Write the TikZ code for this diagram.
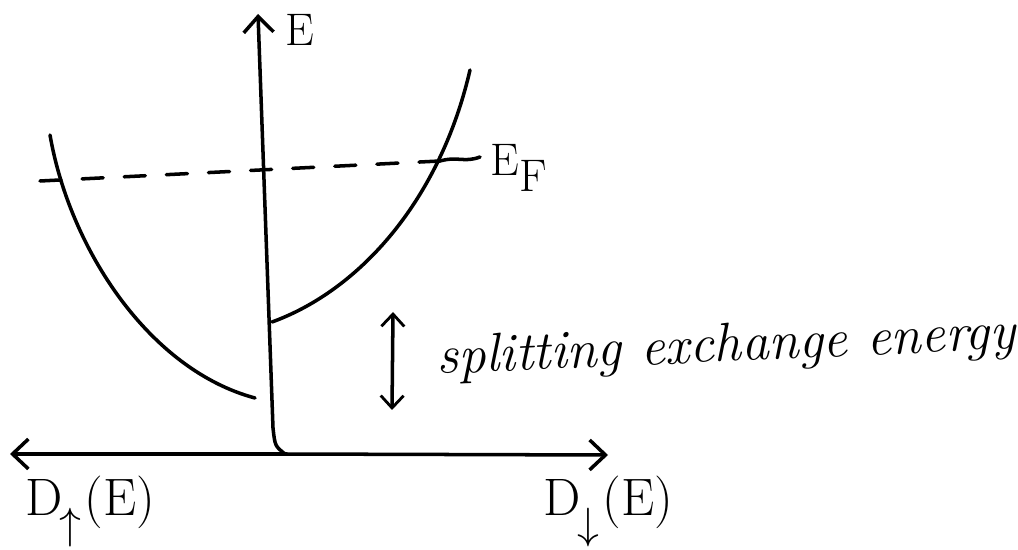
\documentclass[tikz,border=0pt]{standalone}
\usetikzlibrary{arrows.meta}
\begin{document}
\begin{tikzpicture}[x=0.02cm,y=-0.02cm,
  ink/.style={line width=2pt, line cap=round, line join=round},
  barb/.style={-{Straight Barb[length=9pt,width=17pt,line width=2pt]}},
  dbarb/.style={{Straight Barb[length=7pt,width=13pt,line width=1.6pt]}-{Straight Barb[length=7pt,width=13pt,line width=1.6pt]}},
  lbl/.style={inner sep=0pt, font=\fontsize{26}{28}\selectfont},
  biglbl/.style={inner sep=0pt, font=\fontsize{30}{32}\selectfont}]
\useasboundingbox (0,0) rectangle (1018,550);
% axes
\coordinate (O) at (285,454);
\coordinate (Ybend) at (273,428);
\coordinate (Ytop) at (258,14);
\coordinate (Xl) at (10,454);
\coordinate (Xr) at (608,455);
\draw[ink,barb] (O) -- (Xl);
\draw[ink,barb] (O) -- (Xr);
\draw[ink,barb] (O) .. controls (275,446) .. (Ybend) -- (Ytop);
\node[lbl] (Elbl) at (300,30) {E};
% bands
\coordinate (Lt) at (50,135); \coordinate (Lb) at (255,398);
\draw[ink] (Lt) .. controls (70,250) and (150,370) .. (Lb);
\coordinate (Rb) at (272,322); \coordinate (Rt) at (470,70);
\draw[ink] (Rb) .. controls (360,290) and (440,200) .. (Rt);
% Fermi level
\coordinate (Fl) at (40,181); \coordinate (Fr) at (440,161);
\coordinate (Fw) at (480,157);
\draw[ink, dash pattern=on 12pt off 12pt] (Fl) -- (Fr);
\draw[ink] (Fr) .. controls (458,156) and (464,163) .. (Fw);
\node[lbl, anchor=west] (EF) at (490,168) {E\raisebox{-0.35em}{F}};
% splitting
\coordinate (Sa) at (393,312); \coordinate (Sb) at (392,410);
\draw[ink,dbarb] (Sa) -- (Sb);
\node[inner sep=0pt, anchor=base west, rotate=2.5, font=\itshape\fontsize{31}{33}\selectfont] (split) at (437,374) {splitting exchange energy};
% DOS labels
\node[biglbl, anchor=base west] (Dup) at (25,516) {D\kern-0.05em\raisebox{-0.42em}{$\uparrow$}\kern0.05em(E)};
\node[biglbl, anchor=base west] (Ddn) at (543,516) {D\kern-0.05em\raisebox{-0.42em}{$\downarrow$}\kern0.05em(E)};
\end{tikzpicture}
\end{document}
